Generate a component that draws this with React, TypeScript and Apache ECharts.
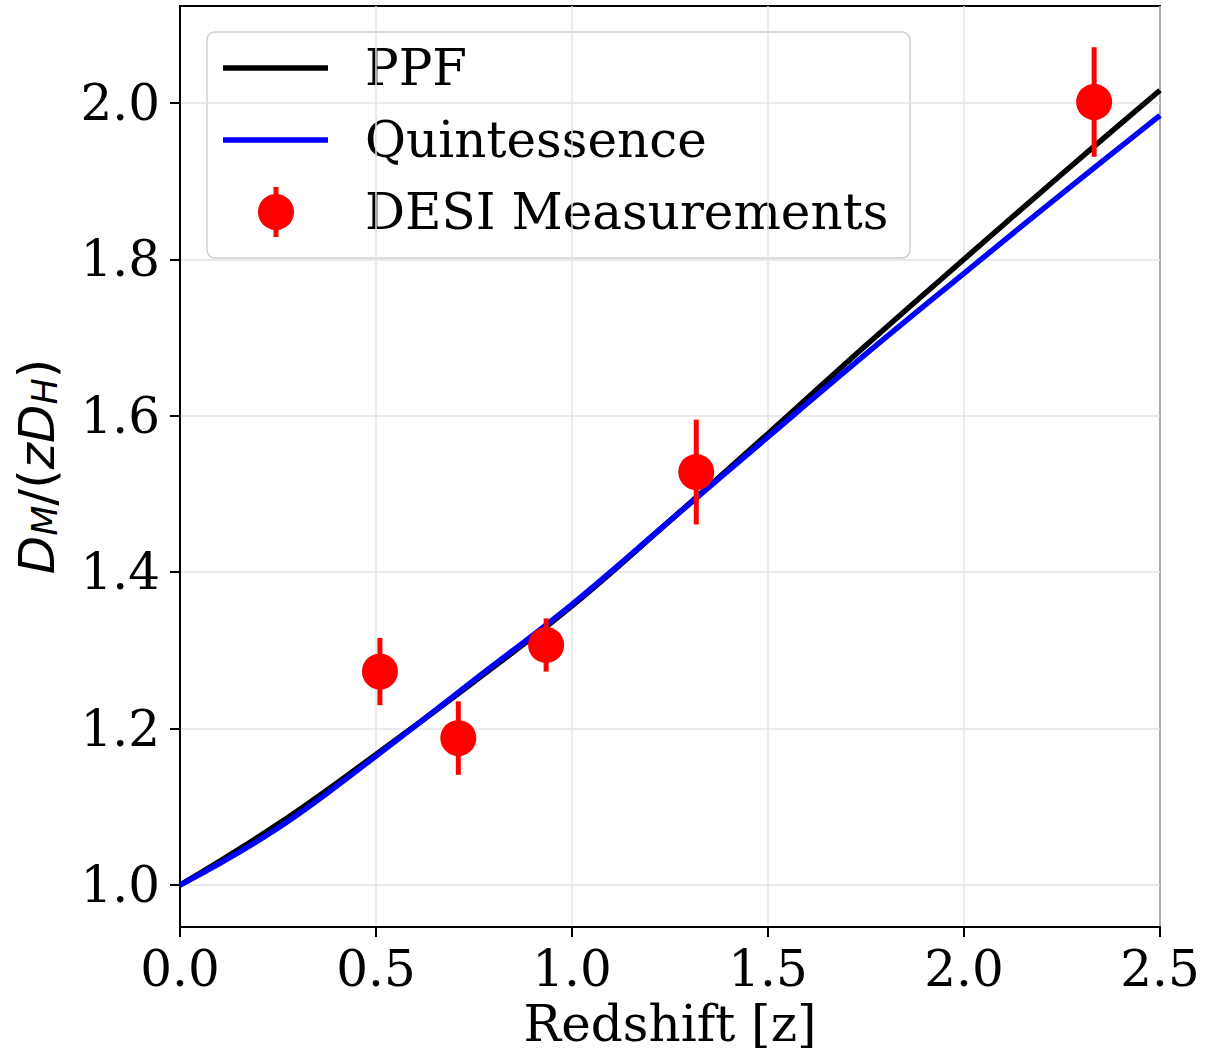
import React, { useEffect, useRef } from "react";
import * as echarts from "echarts";

// ---- data ----
const X_TICKS = [0, 0.5, 1.0, 1.5, 2.0, 2.5];
const Y_TICKS = [1.0, 1.2, 1.4, 1.6, 1.8, 2.0];

const Z_GRID = [0, 0.25, 0.5, 0.75, 1.0, 1.25, 1.5, 1.75, 2.0, 2.25, 2.5];
const PPF = [1.0, 1.078, 1.167, 1.26, 1.357, 1.466, 1.577, 1.69, 1.8, 1.909, 2.016];
const QUINT = [1.0, 1.073, 1.165, 1.262, 1.359, 1.466, 1.573, 1.679, 1.782, 1.884, 1.984];

const DESI_Z = [0.51, 0.71, 0.934, 1.317, 2.332];
const DESI_VAL = [1.273, 1.188, 1.307, 1.528, 2.001];
const DESI_ERR = [0.043, 0.047, 0.034, 0.067, 0.07];

const LEGEND_LABELS = ["PPF", "Quintessence", "DESI Measurements"];
const COLORS = ["#000000", "#0000ff", "#ff0000"];

const SERIF = "DejaVu Serif";
const FS = 50;

export default function App() {
  const ref = useRef<HTMLDivElement>(null);

  useEffect(() => {
    document.body.style.margin = "0";
    const chart = echarts.init(ref.current!, undefined, { renderer: "svg" });

    const ppfData = Z_GRID.map((z, i) => [z, PPF[i]]);
    const qData = Z_GRID.map((z, i) => [z, QUINT[i]]);
    const desiData = DESI_Z.map((z, i) => [z, DESI_VAL[i], DESI_ERR[i]]);

    const legendRows = [68, 140, 212];

    const option: any = {
      animation: false,
      backgroundColor: "#ffffff",
      grid: {
        left: 180,
        top: 6,
        width: 980,
        height: 925,
        show: true,
        borderColor: "#000",
        borderWidth: 2,
        backgroundColor: "transparent",
      },
      xAxis: {
        type: "value",
        min: 0,
        max: 2.5,
        interval: 0.5,
        axisLine: { show: true, onZero: false, lineStyle: { color: "#000", width: 2 } },
        axisTick: { show: true, length: 10, lineStyle: { color: "#000", width: 2 } },
        axisLabel: {
          margin: 17,
          color: "#000",
          fontFamily: SERIF,
          fontSize: FS,
          showMinLabel: true,
          showMaxLabel: true,
          customValues: X_TICKS,
          formatter: (v: number) => v.toFixed(1),
        },
        splitLine: { show: true, lineStyle: { color: "#e3e3e3", width: 1.5 } },
        name: "Redshift [z]",
        nameLocation: "middle",
        nameGap: 68,
        nameTextStyle: { color: "#000", fontFamily: SERIF, fontSize: FS },
      },
      yAxis: {
        type: "value",
        min: 0.9464,
        max: 2.1237,
        axisLine: { show: true, onZero: false, lineStyle: { color: "#000", width: 2 } },
        axisTick: {
          show: true,
          length: 10,
          customValues: Y_TICKS,
          lineStyle: { color: "#000", width: 2 },
        },
        axisLabel: {
          margin: 20,
          color: "#000",
          fontFamily: SERIF,
          fontSize: FS,
          customValues: Y_TICKS,
          formatter: (v: number) => v.toFixed(1),
        },
        splitLine: { show: true, lineStyle: { color: "#e3e3e3", width: 1.5 } },
        name: "{it|D}{sub|M}{n|/(}{it|zD}{sub|H}{n|)}",
        nameLocation: "middle",
        nameRotate: 90,
        nameGap: 118,
        nameTextStyle: {
          color: "#000",
          fontFamily: "DejaVu Sans",
          fontSize: FS,
          rich: {
            it: { fontFamily: "DejaVu Sans", fontStyle: "italic", fontSize: FS, lineHeight: 50, color: "#000" },
            n: { fontFamily: "DejaVu Sans", fontSize: FS, lineHeight: 50, color: "#000" },
            sub: {
              fontFamily: "DejaVu Sans",
              fontStyle: "italic",
              fontSize: 35,
              lineHeight: 23,
              verticalAlign: "bottom",
              color: "#000",
            },
          },
        },
      },
      series: [
        {
          name: LEGEND_LABELS[0],
          type: "line",
          data: ppfData,
          smooth: 0.4,
          showSymbol: false,
          lineStyle: { color: COLORS[0], width: 5.5 },
          z: 3,
        },
        {
          name: LEGEND_LABELS[1],
          type: "line",
          data: qData,
          smooth: 0.4,
          showSymbol: false,
          lineStyle: { color: COLORS[1], width: 5.5 },
          z: 4,
        },
        {
          name: LEGEND_LABELS[2],
          type: "scatter",
          data: desiData,
          symbol: "circle",
          symbolSize: 36,
          itemStyle: { color: COLORS[2], opacity: 1 },
          z: 5,
        },
        {
          name: LEGEND_LABELS[2] + " error",
          type: "custom",
          data: desiData,
          encode: { x: 0, y: 1 },
          z: 6,
          renderItem: (params: any, api: any) => {
            const x = api.value(0);
            const y = api.value(1);
            const e = api.value(2);
            const top = api.coord([x, y + e]);
            const bot = api.coord([x, y - e]);
            return {
              type: "line",
              shape: { x1: top[0], y1: top[1], x2: bot[0], y2: bot[1] },
              style: { stroke: COLORS[2], lineWidth: 5 },
            };
          },
        },
      ],
      graphic: [
        {
          type: "group",
          z: 100,
          children: [
            {
              type: "rect",
              shape: { x: 207, y: 32, width: 703, height: 226, r: 8 },
              style: { fill: "rgba(255,255,255,0.8)", stroke: "#cfcfcf", lineWidth: 1.5 },
            },
            {
              type: "line",
              shape: { x1: 223, y1: legendRows[0], x2: 328, y2: legendRows[0] },
              style: { stroke: COLORS[0], lineWidth: 5.5 },
            },
            {
              type: "line",
              shape: { x1: 223, y1: legendRows[1], x2: 328, y2: legendRows[1] },
              style: { stroke: COLORS[1], lineWidth: 5.5 },
            },
            {
              type: "line",
              shape: { x1: 276, y1: legendRows[2] - 25, x2: 276, y2: legendRows[2] + 25 },
              style: { stroke: COLORS[2], lineWidth: 5 },
            },
            {
              type: "circle",
              shape: { cx: 276, cy: legendRows[2], r: 18 },
              style: { fill: COLORS[2] },
            },
            ...LEGEND_LABELS.map((t, i) => ({
              type: "text",
              x: 365,
              y: legendRows[i],
              style: {
                text: t,
                fill: "#000",
                fontFamily: SERIF,
                fontSize: FS,
                align: "left",
                verticalAlign: "middle",
              },
            })),
          ],
        },
      ],
    };

    chart.setOption(option);
    return () => chart.dispose();
  }, []);

  return (
    <div
      ref={ref}
      style={{ position: "absolute", left: 0, top: 0, width: 1205, height: 1054 }}
    />
  );
}
